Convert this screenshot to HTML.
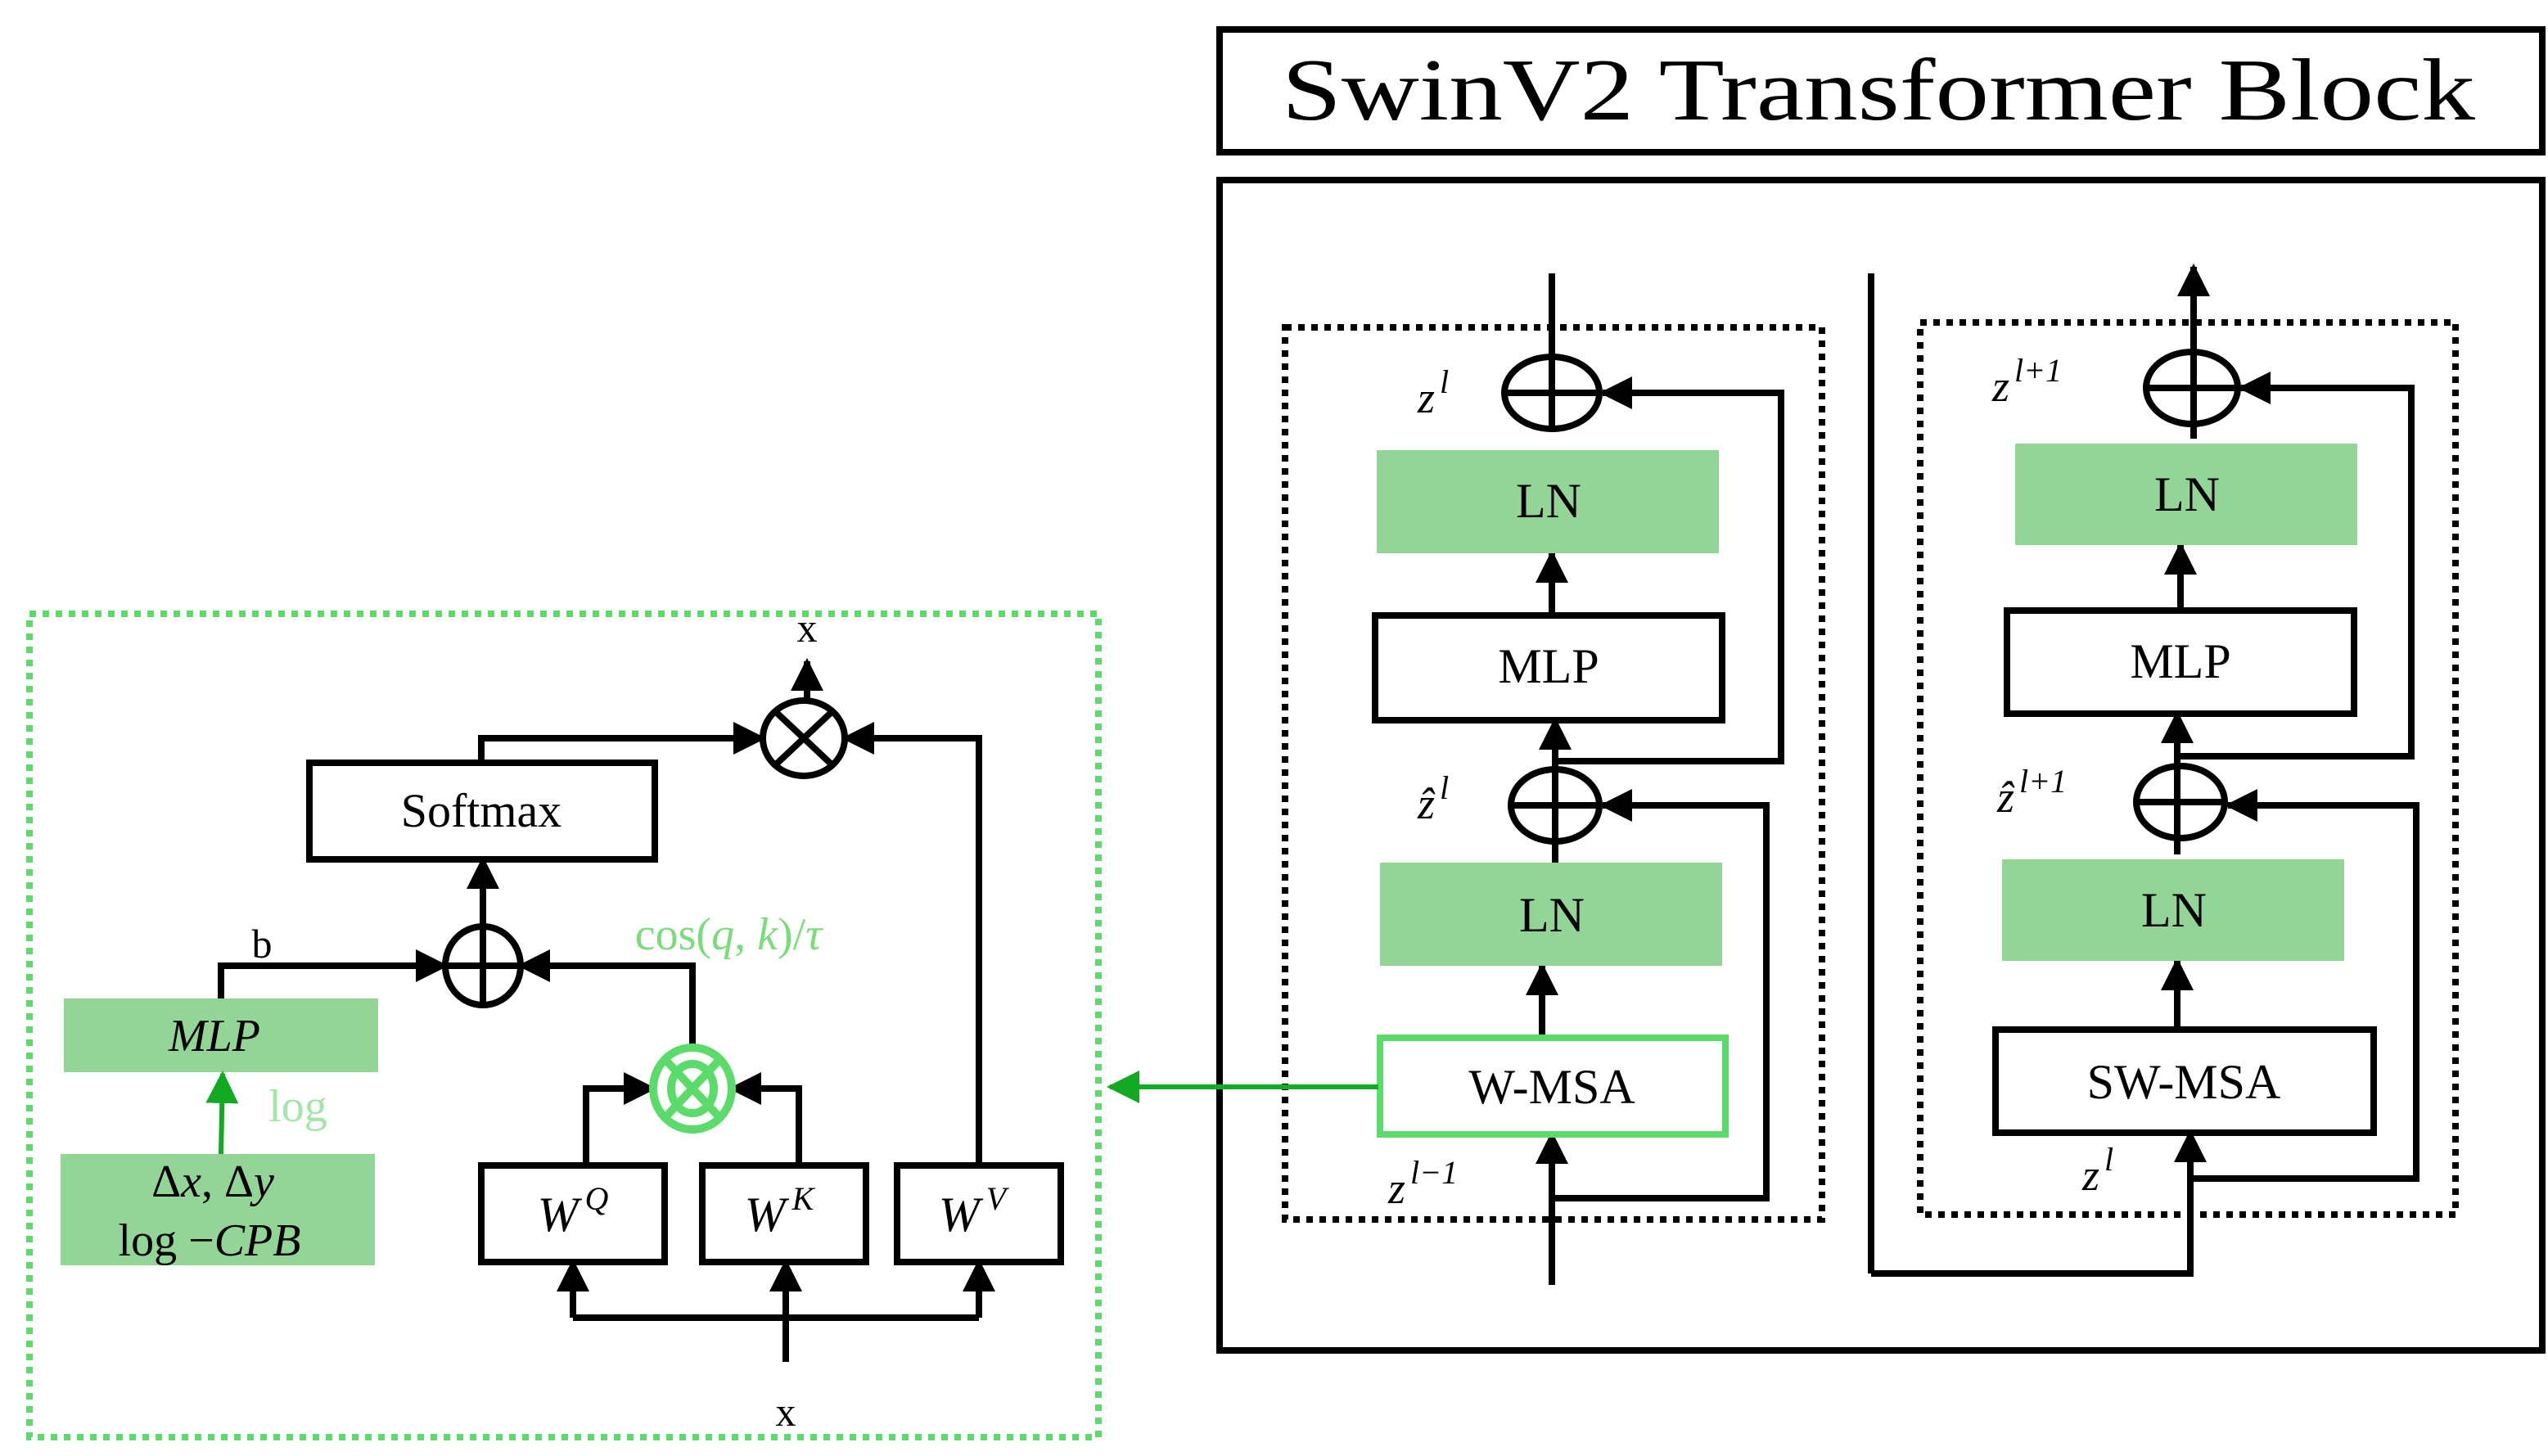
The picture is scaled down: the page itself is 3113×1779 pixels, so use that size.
<!DOCTYPE html>
<html><head><meta charset="utf-8"><style>html,body{margin:0;padding:0;background:#fff}svg{display:block}</style></head><body>
<svg width="3113" height="1779" viewBox="0 0 1556.5 889.5" xmlns="http://www.w3.org/2000/svg" font-family="'Liberation Serif', 'DejaVu Serif', serif">
<defs>
<marker id="ak" viewBox="0 0 10 10" refX="9" refY="5" markerWidth="20" markerHeight="20" orient="auto" markerUnits="userSpaceOnUse"><path d="M0,0 L10,5 L0,10 z" fill="#000"/></marker>
<marker id="ag" viewBox="0 0 10 10" refX="9" refY="5" markerWidth="20" markerHeight="20" orient="auto" markerUnits="userSpaceOnUse"><path d="M0,0 L10,5 L0,10 z" fill="#11aa22"/></marker>
</defs>
<!-- Title -->
<rect x="745" y="18" width="808" height="75" fill="none" stroke="#000" stroke-width="4"/>
<text x="783" y="73" font-size="54" textLength="729" lengthAdjust="spacingAndGlyphs">SwinV2 Transformer Block</text>
<rect x="745" y="110" width="808" height="715" fill="none" stroke="#000" stroke-width="4"/>
<rect x="785" y="200" width="328" height="545" fill="none" stroke="#000" stroke-width="4" stroke-dasharray="4,4"/>
<rect x="1173" y="197" width="327" height="545" fill="none" stroke="#000" stroke-width="4" stroke-dasharray="4,4"/>
<g stroke="#000" stroke-width="4" fill="none">
<line x1="948" y1="167" x2="948" y2="262"/>
<ellipse cx="948" cy="240" rx="29" ry="22"/>
<line x1="919" y1="240" x2="977" y2="240"/>
<line x1="948" y1="376" x2="948" y2="338" marker-end="url(#ak)"/>
<line x1="950" y1="527" x2="950" y2="440" marker-end="url(#ak)"/>
<ellipse cx="950" cy="492" rx="27" ry="22"/>
<line x1="923" y1="492" x2="977" y2="492"/>
<polyline points="950,465 1088,465 1088,240 979,240" marker-end="url(#ak)"/>
<line x1="942" y1="634" x2="942" y2="590" marker-end="url(#ak)"/>
<line x1="948" y1="785" x2="948" y2="693" marker-end="url(#ak)"/>
<polyline points="948,732 1079,732 1079,492 979,492" marker-end="url(#ak)"/>
<line x1="1143" y1="167" x2="1143" y2="778"/>
<polyline points="1143,778 1338,778 1338,692" marker-end="url(#ak)"/>
<line x1="1340" y1="268" x2="1340" y2="163" marker-end="url(#ak)"/>
<ellipse cx="1339" cy="237" rx="28" ry="22"/>
<line x1="1311" y1="237" x2="1367" y2="237"/>
<line x1="1332" y1="373" x2="1332" y2="333" marker-end="url(#ak)"/>
<line x1="1330" y1="522" x2="1330" y2="436" marker-end="url(#ak)"/>
<ellipse cx="1332" cy="490" rx="27" ry="22"/>
<line x1="1305" y1="490" x2="1359" y2="490"/>
<polyline points="1332,462 1473,462 1473,237 1369,237" marker-end="url(#ak)"/>
<line x1="1330" y1="629" x2="1330" y2="587" marker-end="url(#ak)"/>
<polyline points="1338,720 1476,720 1476,492 1361,492" marker-end="url(#ak)"/>
</g>
<g fill="#93d597">
<rect x="841" y="275" width="209" height="63"/>
<rect x="843" y="527" width="209" height="63"/>
<rect x="1231" y="271" width="209" height="62"/>
<rect x="1223" y="525" width="209" height="62"/>
</g>
<rect x="840" y="376" width="212" height="64" fill="#fff" stroke="#000" stroke-width="4"/>
<rect x="1226" y="373" width="212" height="63" fill="#fff" stroke="#000" stroke-width="4"/>
<rect x="843" y="634" width="211" height="59" fill="#fff" stroke="#5bdc6a" stroke-width="4"/>
<rect x="1219" y="629" width="231" height="63" fill="#fff" stroke="#000" stroke-width="4"/>
<g font-size="30" text-anchor="middle">
<text x="946" y="316">LN</text><text x="946" y="417">MLP</text><text x="948" y="569">LN</text><text x="948" y="674">W-MSA</text>
<text x="1336" y="312">LN</text><text x="1332" y="414">MLP</text><text x="1328" y="566">LN</text><text x="1334" y="671">SW-MSA</text>
</g>
<g font-size="27" font-style="italic">
<text x="866" y="252">z<tspan font-size="20" dx="3" dy="-12">l</tspan></text>
<text x="866" y="500">ẑ<tspan font-size="20" dx="3" dy="-12">l</tspan></text>
<text x="848" y="735">z<tspan font-size="20" dx="3" dy="-12">l−1</tspan></text>
<text x="1217" y="245">z<tspan font-size="20" dx="3" dy="-12">l+1</tspan></text>
<text x="1220" y="496">ẑ<tspan font-size="20" dx="3" dy="-12">l+1</tspan></text>
<text x="1272" y="727">z<tspan font-size="20" dx="3" dy="-12">l</tspan></text>
</g>
<line x1="842" y1="664" x2="678" y2="664" stroke="#11aa22" stroke-width="3" marker-end="url(#ag)"/>
<rect x="18" y="375" width="653" height="503" fill="none" stroke="#5bdc6a" stroke-width="4" stroke-dasharray="4,4"/>
<g stroke="#000" stroke-width="4" fill="none">
<ellipse cx="491" cy="451" rx="25" ry="23"/>
<line x1="474" y1="435" x2="508" y2="467"/><line x1="508" y1="435" x2="474" y2="467"/>
<line x1="493" y1="428" x2="493" y2="404" marker-end="url(#ak)"/>
<polyline points="294,466 294,451 466,451" marker-end="url(#ak)"/>
<polyline points="598,712 598,451 516,451" marker-end="url(#ak)"/>
<ellipse cx="295" cy="590" rx="23" ry="24"/>
<line x1="272" y1="590" x2="318" y2="590"/><line x1="295" y1="566" x2="295" y2="614"/>
<line x1="295" y1="566" x2="295" y2="525" marker-end="url(#ak)"/>
<polyline points="135,610 135,590 272,590" marker-end="url(#ak)"/>
<polyline points="423,640 423,590 318,590" marker-end="url(#ak)"/>
<polyline points="358,712 358,665 399,665" marker-end="url(#ak)"/>
<polyline points="488,712 488,665 447,665" marker-end="url(#ak)"/>
<polyline points="350,805 598,805"/>
<line x1="350" y1="805" x2="350" y2="771" marker-end="url(#ak)"/>
<line x1="598" y1="805" x2="598" y2="771" marker-end="url(#ak)"/>
<line x1="480" y1="832" x2="480" y2="771" marker-end="url(#ak)"/>
</g>
<g stroke="#5bdc6a" stroke-width="5" fill="#fff">
<ellipse cx="423" cy="665" rx="24" ry="25"/>
<line x1="407" y1="648" x2="439" y2="682"/><line x1="439" y1="648" x2="407" y2="682"/>
<ellipse cx="423" cy="665" rx="13" ry="15" fill="none"/>
</g>
<rect x="189" y="466" width="211" height="59" fill="#fff" stroke="#000" stroke-width="4"/>
<text x="294" y="505" font-size="29" text-anchor="middle">Softmax</text>
<rect x="39" y="610" width="192" height="45" fill="#93d597"/>
<text x="131" y="642" font-size="28" font-style="italic" text-anchor="middle">MLP</text>
<rect x="37" y="705" width="192" height="68" fill="#93d597"/>
<text x="130" y="731" font-size="28" text-anchor="middle">Δ<tspan font-style="italic">x</tspan>, Δ<tspan font-style="italic">y</tspan></text>
<text x="128" y="767" font-size="28" text-anchor="middle">log −<tspan font-style="italic">CPB</tspan></text>
<line x1="135" y1="705" x2="136" y2="656" stroke="#11aa22" stroke-width="3" marker-end="url(#ag)"/>
<text x="182" y="685" font-size="28" fill="#a4e6a8" text-anchor="middle">log</text>
<text x="445" y="580" font-size="28" fill="#7bdc7b" text-anchor="middle">cos(<tspan font-style="italic">q</tspan>, <tspan font-style="italic">k</tspan>)/<tspan font-style="italic">τ</tspan></text>
<text x="160" y="585" font-size="25" text-anchor="middle">b</text>
<text x="493" y="392" font-size="25" text-anchor="middle">x</text>
<text x="480" y="871" font-size="25" text-anchor="middle">x</text>
<g fill="#fff" stroke="#000" stroke-width="4">
<rect x="294" y="712" width="112" height="59"/><rect x="429" y="712" width="100" height="59"/><rect x="548" y="712" width="100" height="59"/>
</g>
<g font-size="30" font-style="italic" text-anchor="middle">
<text x="350" y="752">W<tspan font-size="20" dx="4" dy="-13">Q</tspan></text>
<text x="476" y="752">W<tspan font-size="20" dx="4" dy="-13">K</tspan></text>
<text x="594" y="752">W<tspan font-size="20" dx="4" dy="-13">V</tspan></text>
</g>
</svg>
</body></html>
